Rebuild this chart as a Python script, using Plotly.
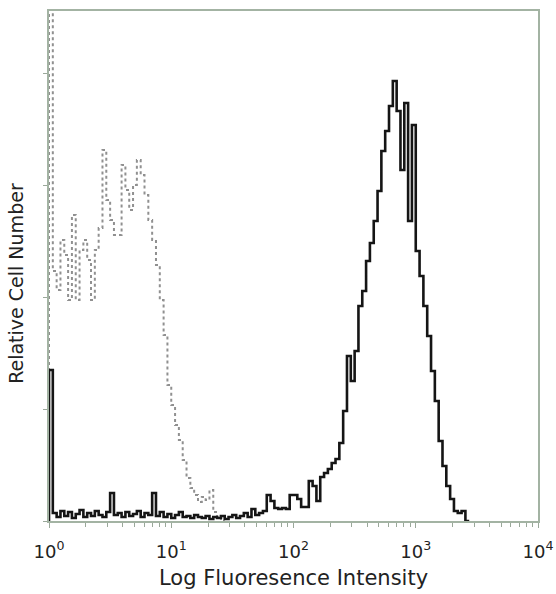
import numpy as np
import plotly.graph_objects as go

# Histogram data: 32 channels per decade, channel i spans 10^(i/32) .. 10^((i+1)/32)
channels_per_decade = 32

# Isotype control (dotted grey); channel 0 is off scale
control_counts = [
    600, 250, 231, 281, 266, 221, 306, 221, 271, 281,
    261, 221, 271, 293, 371, 321, 301, 286, 286, 356,
    331, 311, 336, 361, 346, 326, 301, 281, 256, 221,
    186, 136, 116, 96, 81, 61, 43, 33, 26, 19,
    24, 21, 31, 9, 3, 0,
]

# Stained sample (solid black)
stained_counts = [
    151, 8, 4, 10, 5, 9, 3, 7, 11, 4,
    8, 5, 10, 6, 4, 9, 28, 6, 8, 4,
    9, 5, 7, 10, 4, 8, 6, 28, 5, 9,
    4, 7, 3, 6, 9, 4, 5, 3, 6, 4,
    3, 5, 2, 4, 3, 5, 2, 4, 6, 3,
    5, 8, 4, 12, 6, 8, 10, 26, 20, 13,
    12, 13, 12, 26, 26, 22, 14, 14, 40, 35,
    20, 44, 48, 52, 58, 62, 78, 110, 165, 140,
    170, 215, 230, 260, 278, 300, 330, 370, 390, 415,
    440, 410, 351, 418, 300, 396, 270, 245, 215, 185,
    150, 120, 80, 55, 35, 22, 10, 8, 10, 0,
]

x_tick_values = [1, 10, 100, 1000, 10000]
x_tick_labels = ["10<sup>0</sup>", "10<sup>1</sup>", "10<sup>2</sup>",
                 "10<sup>3</sup>", "10<sup>4</sup>"]
x_title = "Log Fluoresence Intensity"
y_title = "Relative Cell Number"


def step_xy(counts):
    n = len(counts)
    edges = 10 ** (np.arange(n + 1) / channels_per_decade)
    x = [edges[0]] + list(edges[:n]) + [edges[n]]
    y = [0] + list(counts) + [0]
    return x, y


fig = go.Figure()
cx, cy = step_xy(control_counts)
fig.add_trace(go.Scatter(x=cx, y=cy, mode="lines", line_shape="hv",
                         line=dict(color="#909090", width=2, dash="dot"),
                         showlegend=False, hoverinfo="skip"))
sx, sy = step_xy(stained_counts)
fig.add_trace(go.Scatter(x=sx, y=sy, mode="lines", line_shape="hv",
                         line=dict(color="#151515", width=2.6),
                         showlegend=False, hoverinfo="skip"))

minor_vals = [m * 10 ** d for d in range(4) for m in range(2, 10)]

fig.update_layout(
    width=556, height=594,
    margin=dict(l=49, r=18, t=11, b=73),
    paper_bgcolor="white", plot_bgcolor="white",
    font=dict(family="DejaVu Sans", color="#222222"),
    xaxis=dict(
        type="log", range=[0, 4], automargin=False,
        tickmode="array", tickvals=x_tick_values, ticktext=x_tick_labels,
        tickfont=dict(size=18, family="DejaVu Sans", color="#222222"),
        ticks="outside", ticklen=5, tickwidth=1, tickcolor="#9aa89a",
        ticklabelstandoff=8,
        minor=dict(tickmode="array", tickvals=minor_vals, ticks="outside",
                   ticklen=4, tickcolor="#9aa89a", showgrid=False),
        showgrid=False, zeroline=False,
        showline=True, linecolor="#a3b3a3", linewidth=2, mirror=True,
    ),
    yaxis=dict(
        range=[0, 510], tick0=0, dtick=112, automargin=False,
        showticklabels=False,
        ticks="outside", ticklen=4, tickcolor="#9aa89a",
        showgrid=False, zeroline=False,
        showline=True, linecolor="#a3b3a3", linewidth=2, mirror=True,
    ),
    annotations=[
        dict(text=x_title, xref="paper", yref="paper", x=0.5, y=0,
             xanchor="center", yanchor="middle", yshift=-57, showarrow=False,
             font=dict(size=21, family="DejaVu Sans", color="#222222")),
        dict(text=y_title, xref="paper", yref="paper", x=0, y=0.465,
             xanchor="center", yanchor="middle", xshift=-33, textangle=-90,
             showarrow=False,
             font=dict(size=19, family="DejaVu Sans", color="#222222")),
    ],
)

fig.write_html("out.html",
               config={"displayModeBar": False},
               post_script="document.body.style.margin='0';"
                           "document.body.style.padding='0';")
